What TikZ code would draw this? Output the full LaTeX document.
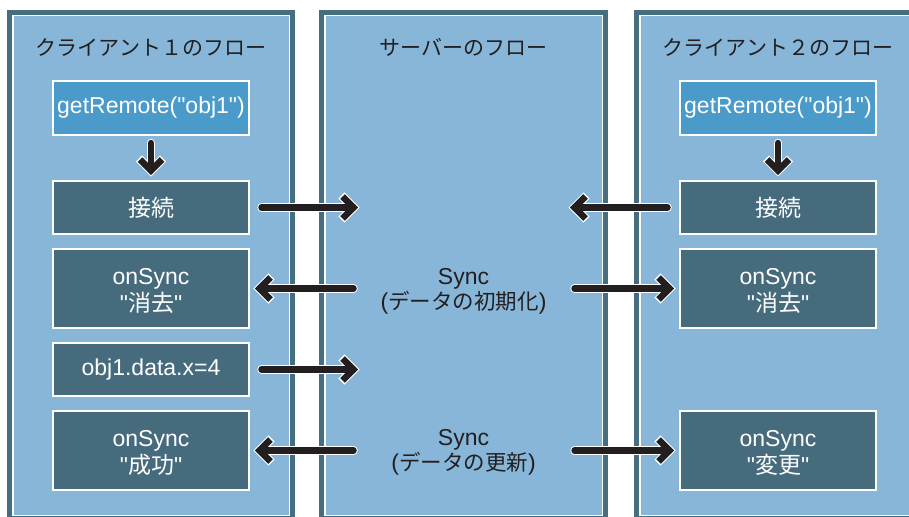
\documentclass[tikz,border=0pt]{standalone}
\usepackage{fontspec}
\setmainfont{Liberation Sans}[Ligatures=TeXOff]
\newfontfamily\jp{Noto Sans CJK JP}
\usetikzlibrary{calc}

\definecolor{paneledge}{HTML}{466E80}
\definecolor{panelfill}{HTML}{87B6D9}
\definecolor{boxdark}{HTML}{456B7D}
\definecolor{boxblue}{HTML}{4A9BCA}
\definecolor{ink}{HTML}{231F20}

% two centred lines, 25px apart, set a little lower than the box centre
\newcommand\twolines[2]{\raisebox{-4.5pt}[\height][\depth]{\begin{tabular}{@{}c@{}}#1\\#2\end{tabular}}}

% a lane: dark frame, thin white rule, light fill
\newcommand\lane[2]{%
  \fill[paneledge] (#1,10) rectangle (#2,530);
  \fill[white] ($(#1,10)+(5,5)$) rectangle ($(#2,515.5)+(-5,0)$);
  \fill[panelfill] ($(#1,10)+(6.5,6.5)$) rectangle ($(#2,514.5)+(-6.5,0)$);
}

% thick arrow with a chevron head and a white halo
\newcommand\flowarrow[4]{%
  \draw[arrhalo, line cap=round] (#1) -- (#2);
  \draw[arrhalo, line cap=butt, line join=miter]
    ($(#2)!1.1!([shift={#3}]#2)$) -- (#2) -- ($(#2)!1.1!([shift={#4}]#2)$);
  \draw[arrbody, line cap=round] (#1) -- (#2);
  \draw[arrbody, line cap=butt, line join=miter]
    ([shift={#3}]#2) -- (#2) -- ([shift={#4}]#2);
}

\begin{document}
\begin{tikzpicture}[x=1pt,y=-1pt,
  lanetitle/.style={anchor=base, text=ink, font=\jp\fontsize{21}{25}\selectfont, inner sep=0},
  box/.style={draw=white, line width=2, minimum width=196, text=white, align=center,
    font=\fontsize{23}{25}\selectfont, inner sep=0},
  darkbox/.style={box, fill=boxdark},
  bluebox/.style={box, fill=boxblue},
  msg/.style={text=ink, align=center, font=\fontsize{23}{24.5}\selectfont, inner sep=0},
  arrhalo/.style={draw=white, line width=8.5},
  arrbody/.style={draw=ink, line width=6.5}]
\useasboundingbox (0,0) rectangle (909,516);
\clip (0,0) rectangle (909,516);
\fill[white] (0,0) rectangle (909,516);

% lanes
\lane{7}{295}
\lane{319}{608}
\lane{634}{922}

% lane titles
\node[lanetitle] (t1) at (151,56) {クライアント１のフロー};
\node[lanetitle] (t2) at (463.5,56) {サーバーのフロー};
\node[lanetitle] (t3) at (778,56) {クライアント２のフロー};

% client 1
\node[bluebox, minimum height=54] (g1) at (151,108) {getRemote("obj1")};
\node[darkbox, minimum height=53] (c1) at (151,207.5) {\jp 接続};
\node[darkbox, minimum height=79.5] (e1) at (151,288.5) {\twolines{onSync}{"{\jp 消去}"}};
\node[darkbox, minimum height=53] (w1) at (151,369.5) {obj1.data.x=4};
\node[darkbox, minimum height=78.5] (s1) at (151,450.5) {\twolines{onSync}{"{\jp 成功}"}};

% client 2
\node[bluebox, minimum height=54] (g2) at (778,108) {getRemote("obj1")};
\node[darkbox, minimum height=53] (c2) at (778,207.5) {\jp 接続};
\node[darkbox, minimum height=79.5] (e2) at (778,288.5) {\twolines{onSync}{"{\jp 消去}"}};
\node[darkbox, minimum height=78.5] (u2) at (778,450.5) {\twolines{onSync}{"{\jp 変更}"}};

% server messages
\node[msg] (m1) at (463.5,291.5) {Sync\\({\jp\fontsize{21.5}{24.5}\selectfont データの初期化})};
\node[msg] (m2) at (463.5,452.5) {Sync\\({\jp\fontsize{21.5}{24.5}\selectfont データの更新})};

% ends of the arrows inside the server lane
\coordinate (sL) at (353.5,0);
\coordinate (sR) at (574.5,0);

% getRemote -> connect
\flowarrow{$(g1.south)+(0,7)$}{$(c1.north)+(0,-9.5)$}{(-11,-11)}{(11,-11)}
\flowarrow{$(g2.south)+(0,7)$}{$(c2.north)+(0,-9.5)$}{(-11,-11)}{(11,-11)}

% client 1 <-> server
\flowarrow{$(c1.east)+(11.5,0)$}{c1.east -| sL}{(-11,-11)}{(-11,11)}
\flowarrow{e1.east -| sL}{$(e1.east)+(9.5,0)$}{(11,-11)}{(11,11)}
\flowarrow{$(w1.east)+(11.5,0)$}{w1.east -| sL}{(-11,-11)}{(-11,11)}
\flowarrow{s1.east -| sL}{$(s1.east)+(9.5,0)$}{(11,-11)}{(11,11)}

% server <-> client 2
\flowarrow{$(c2.west)+(-11.5,0)$}{c2.west -| sR}{(11,-11)}{(11,11)}
\flowarrow{e2.west -| sR}{$(e2.west)+(-9.5,0)$}{(-11,-11)}{(-11,11)}
\flowarrow{u2.west -| sR}{$(u2.west)+(-9.5,0)$}{(-11,-11)}{(-11,11)}
\end{tikzpicture}
\end{document}
